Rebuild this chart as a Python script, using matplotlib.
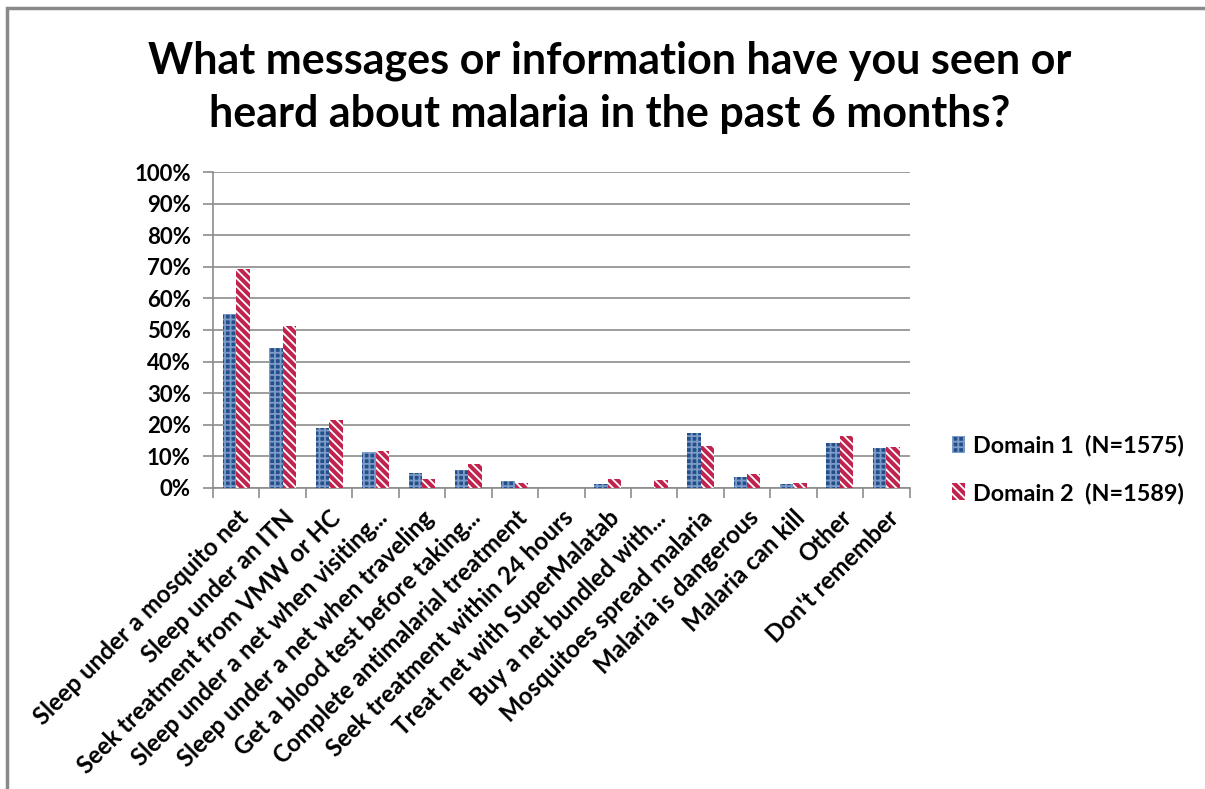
import matplotlib
matplotlib.use("Agg")
import matplotlib.pyplot as plt
import numpy as np
from matplotlib.patches import Patch, Rectangle

plt.rcParams['font.family'] = ['Lato', 'DejaVu Sans']
plt.rcParams['font.weight'] = 'bold'
plt.rcParams['hatch.linewidth'] = 1.3

# ------------------ DATA ------------------

categories = [
    "Sleep under a mosquito net",
    "Sleep under an ITN",
    "Seek treatment from VMW or HC",
    "Sleep under a net when visiting...",
    "Sleep under a net when traveling",
    "Get a blood test before taking...",
    "Complete antimalarial treatment",
    "Seek treatment within 24 hours",
    "Treat net with SuperMalatab",
    "Buy a net bundled with...",
    "Mosquitoes spread malaria",
    "Malaria is dangerous",
    "Malaria can kill",
    "Other",
    "Don't remember",
]
domain1 = [55.1, 44.2, 18.9, 11.4, 4.8, 5.6, 2.1, 0.0, 1.2, 0.0, 17.3, 3.5, 1.2, 14.3, 12.6]
domain2 = [69.4, 51.3, 21.6, 11.8, 3.0, 7.6, 1.7, 0.0, 2.8, 2.4, 13.4, 4.4, 1.6, 16.5, 13.0]
series_labels = ["Domain 1  (N=1575)", "Domain 2  (N=1589)"]
yticks = np.arange(0, 101, 10)

blue = '#24508a'
blue_hatch = '#7d9bc9'
red = '#c0234e'
grid_gray = '#8c8c8c'

# ------------------ PLOT ------------------

fig = plt.figure(figsize=(12.05, 7.89), dpi=100)
ax = fig.add_axes([0.1768, 0.3815, 0.578, 0.4005])

x = np.arange(len(categories))
w = 0.29
ax.bar(x - w / 2, domain1, w, color=blue, edgecolor=blue_hatch, hatch='+++', linewidth=0, zorder=3)
ax.bar(x + w / 2, domain2, w, color=red, edgecolor='white', hatch='\\\\\\\\', linewidth=0, zorder=3)

ax.set_xlim(-0.5, len(categories) - 0.5)
ax.set_ylim(0, 100)
ax.set_yticks(yticks)
ax.set_yticklabels([f"{v}%" for v in yticks], fontsize=16, fontweight='bold')
ax.yaxis.grid(True, color=grid_gray, linewidth=1.2, zorder=0)
ax.set_axisbelow(True)

# category boundaries carry the tick marks, labels sit at the centres
ax.set_xticks(np.arange(-0.5, len(categories), 1.0), minor=True)
ax.set_xticks(x)
ax.set_xticklabels(categories, rotation=45, ha='right', rotation_mode='anchor',
                   fontsize=17.3, fontweight='bold')
ax.tick_params(axis='x', which='major', length=0, pad=13)
ax.tick_params(axis='x', which='minor', length=7, color=grid_gray, width=1.2)
ax.tick_params(axis='y', length=7, color=grid_gray, width=1.2, pad=9)

for s in ['top', 'right']:
    ax.spines[s].set_visible(False)
for s in ['left', 'bottom']:
    ax.spines[s].set_color(grid_gray)
    ax.spines[s].set_linewidth(1.2)

fig.text(0.506, 1 - 87 / 789,
         "What messages or information have you seen or\nheard about malaria in the past 6 months?",
         ha='center', va='center', fontsize=31, fontweight='bold', linespacing=1.4)

handles = [
    Patch(facecolor=blue, edgecolor=blue_hatch, hatch='+++', linewidth=0),
    Patch(facecolor=red, edgecolor='white', hatch='\\\\\\\\', linewidth=0),
]
fig.legend(handles, series_labels, loc='center left', bbox_to_anchor=(0.773, 0.405),
           frameon=False, handlelength=0.55, handleheight=0.75,
           handletextpad=0.35, labelspacing=1.1, prop={'weight': 'bold', 'size': 16.8})

# outer chart frame
fig.patches.append(Rectangle((7 / 1205, -0.05), 1.1, 1 - 8 / 789 + 0.05, transform=fig.transFigure,
                             fill=False, edgecolor='#8a8a8a', linewidth=2.5))

fig.savefig('out.png', dpi=100)
